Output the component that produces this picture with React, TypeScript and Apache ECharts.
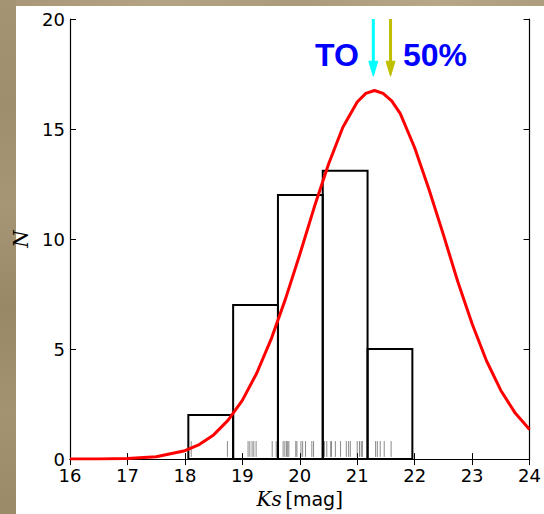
import React, { useEffect, useRef } from "react";
import * as echarts from "echarts";

// ---- data ----
const binEdges = [18.06, 18.84, 19.62, 20.4, 21.18, 21.96];
const binCounts = [2, 7, 12, 13.1, 5];

const rugValues = [
  18.11, 18.74, 19.1, 19.13, 19.17, 19.2, 19.24, 19.52, 19.59, 19.71, 19.74,
  19.77, 19.79, 19.81, 19.93, 19.95, 20.02, 20.05, 20.1, 20.21, 20.24, 20.43,
  20.47, 20.54, 20.55, 20.62, 20.71, 20.81, 20.85, 20.88, 21.0, 21.04, 21.07,
  21.09, 21.32, 21.35, 21.4, 21.47, 21.59,
];

const curveX = [
  16, 16.5, 17, 17.5, 18, 18.25, 18.5, 18.75, 19, 19.25, 19.5, 19.75, 20,
  20.25, 20.5, 20.75, 21, 21.15, 21.3, 21.45, 21.6, 21.75, 22, 22.25, 22.5,
  22.75, 23, 23.25, 23.5, 23.75, 24,
];
const curveY = [
  0.0, 0.0, 0.03, 0.11, 0.38, 0.66, 1.1, 1.76, 2.67, 3.9, 5.44, 7.27, 9.3,
  11.43, 13.4, 15.08, 16.23, 16.62, 16.75, 16.62, 16.28, 15.7, 14.15, 12.25,
  10.2, 8.07, 6.15, 4.47, 3.12, 2.09, 1.35,
];

const arrowX = [21.28, 21.58];
const arrowTop = [20, 20];
const arrowTip = [17.4, 17.4];

const xTicks = ["16", "17", "18", "19", "20", "21", "22", "23", "24"];
const yTicks = ["0", "5", "10", "15", "20"];

const ARROW_COLORS = ["#00ffff", "#bfbf00"];

export default function App() {
  const ref = useRef<HTMLDivElement>(null);

  useEffect(() => {
    if (!ref.current) return;
    const chart = echarts.init(ref.current, null, { renderer: "svg" });

    const xMin = Number(xTicks[0]);
    const xMax = Number(xTicks[xTicks.length - 1]);
    const yMin = Number(yTicks[0]);
    const yMax = Number(yTicks[yTicks.length - 1]);

    const histData = binCounts.map((c, i) => [binEdges[i], binEdges[i + 1], c]);
    const rugData = rugValues.map((v) => [v, 0.45]);
    const curveData = curveX.map((x, i) => [x, curveY[i]]);
    const arrowData = arrowX.map((x, i) => [x, arrowTop[i], arrowTip[i], i]);

    const labelFont = {
      color: "#000",
      fontSize: 18,
      fontFamily: "DejaVu Sans",
    };

    const baseAxisLine = { show: true, lineStyle: { color: "#000", width: 1.2 } };
    const tick = { show: true, inside: true, length: 6, lineStyle: { color: "#000", width: 1 } };

    chart.setOption({
      animation: false,
      backgroundColor: "transparent",
      grid: { left: 70, right: 12, top: 19, bottom: 49, containLabel: false },
      graphic: [
        {
          type: "rect",
          silent: true,
          z: -10,
          shape: { x: 0, y: 0, width: 544, height: 6 },
          style: {
            fill: new echarts.graphic.LinearGradient(0, 0, 1, 0, [
              { offset: 0, color: "#a89676" },
              { offset: 0.3, color: "#b5a385" },
              { offset: 0.55, color: "#ab9a7b" },
              { offset: 0.8, color: "#b7a688" },
              { offset: 1, color: "#ad9c7e" },
            ]),
          },
        },
        {
          type: "rect",
          silent: true,
          z: -10,
          shape: { x: 0, y: 0, width: 16, height: 514 },
          style: {
            fill: new echarts.graphic.LinearGradient(0, 0, 0, 1, [
              { offset: 0, color: "#a59474" },
              { offset: 0.2, color: "#9f8e6d" },
              { offset: 0.4, color: "#a69676" },
              { offset: 0.6, color: "#998866" },
              { offset: 0.8, color: "#a39371" },
              { offset: 1, color: "#9a8a68" },
            ]),
          },
        },
        {
          type: "text",
          x: 315,
          y: 55,
          style: {
            text: "TO",
            fill: "#0000ff",
            font: "bold 32px 'Liberation Sans'",
            textVerticalAlign: "middle",
          },
        },
        {
          type: "text",
          x: 403,
          y: 55,
          style: {
            text: "50%",
            fill: "#0000ff",
            font: "bold 32px 'Liberation Sans'",
            textVerticalAlign: "middle",
          },
        },
      ],
      xAxis: [
        {
          type: "value",
          position: "bottom",
          min: xMin,
          max: xMax,
          interval: 1,
          axisLine: baseAxisLine,
          axisTick: tick,
          splitLine: { show: false },
          axisLabel: { ...labelFont, margin: 7 },
          name: "{i|Ks} {b|[}{n|mag}{b|]}",
          nameLocation: "middle",
          nameGap: 26,
          nameTextStyle: {
            rich: {
              i: { fontFamily: "DejaVu Serif", fontStyle: "italic", fontSize: 20, color: "#000" },
              b: { fontFamily: "DejaVu Serif", fontSize: 20, color: "#000" },
              n: { fontFamily: "DejaVu Sans", fontSize: 19, color: "#000" },
            },
          },
        },
        {
          type: "value",
          position: "top",
          min: xMin,
          max: xMax,
          interval: 1,
          axisLine: baseAxisLine,
          axisTick: tick,
          splitLine: { show: false },
          axisLabel: { show: false },
        },
      ],
      yAxis: [
        {
          type: "value",
          position: "left",
          min: yMin,
          max: yMax,
          interval: 5,
          axisLine: baseAxisLine,
          axisTick: tick,
          splitLine: { show: false },
          axisLabel: { ...labelFont, margin: 5 },
          name: "N",
          nameLocation: "middle",
          nameGap: 34,
          nameTextStyle: {
            fontFamily: "DejaVu Serif",
            fontStyle: "italic",
            fontSize: 20,
            color: "#000",
          },
        },
        {
          type: "value",
          position: "right",
          min: yMin,
          max: yMax,
          interval: 5,
          axisLine: baseAxisLine,
          axisTick: tick,
          splitLine: { show: false },
          axisLabel: { show: false },
        },
      ],
      series: [
        {
          type: "custom",
          name: "rug",
          z: 1,
          xAxisIndex: 0,
          yAxisIndex: 0,
          data: rugData,
          encode: { x: 0, y: 1 },
          renderItem: (params: any, api: any) => {
            const x = api.value(0);
            const p0 = api.coord([x, 0.1]);
            const p1 = api.coord([x, 0.82]);
            return {
              type: "line",
              shape: { x1: p0[0], y1: p0[1], x2: p1[0], y2: p1[1] },
              style: { stroke: "rgba(60,60,60,0.6)", lineWidth: 1 },
            };
          },
        },
        {
          type: "custom",
          name: "hist",
          z: 2,
          xAxisIndex: 0,
          yAxisIndex: 0,
          data: histData,
          encode: { x: [0, 1], y: 2 },
          renderItem: (params: any, api: any) => {
            const a = api.coord([api.value(0), api.value(2)]);
            const b = api.coord([api.value(1), 0]);
            return {
              type: "rect",
              shape: { x: a[0], y: a[1], width: b[0] - a[0], height: b[1] - a[1] },
              style: { fill: "none", stroke: "#000", lineWidth: 2 },
            };
          },
        },
        {
          type: "line",
          name: "fit",
          z: 3,
          xAxisIndex: 0,
          yAxisIndex: 0,
          data: curveData,
          showSymbol: false,
          symbol: "none",
          smooth: false,
          lineStyle: { color: "#ff0000", width: 3 },
        },
        {
          type: "custom",
          name: "arrows",
          z: 4,
          clip: false,
          xAxisIndex: 0,
          yAxisIndex: 0,
          data: arrowData,
          encode: { x: 0, y: [1, 2] },
          renderItem: (params: any, api: any) => {
            const x = api.value(0);
            const top = api.coord([x, api.value(1)]);
            const tip = api.coord([x, api.value(2)]);
            const color = ARROW_COLORS[api.value(3)];
            const headLen = 15;
            const headHalf = 4.5;
            return {
              type: "group",
              children: [
                {
                  type: "line",
                  shape: { x1: top[0], y1: top[1], x2: tip[0], y2: tip[1] - headLen + 1 },
                  style: { stroke: color, lineWidth: 3 },
                },
                {
                  type: "polygon",
                  shape: {
                    points: [
                      [tip[0] - headHalf, tip[1] - headLen],
                      [tip[0] + headHalf, tip[1] - headLen],
                      [tip[0], tip[1]],
                    ],
                  },
                  style: { fill: color, stroke: color, lineWidth: 1 },
                },
              ],
            };
          },
        },
      ],
    });

    return () => chart.dispose();
  }, []);

  return (
    <div
      ref={ref}
      style={{
        position: "fixed",
        left: 0,
        top: 0,
        width: 544,
        height: 514,
        background: "#ffffff",
      }}
    />
  );
}
